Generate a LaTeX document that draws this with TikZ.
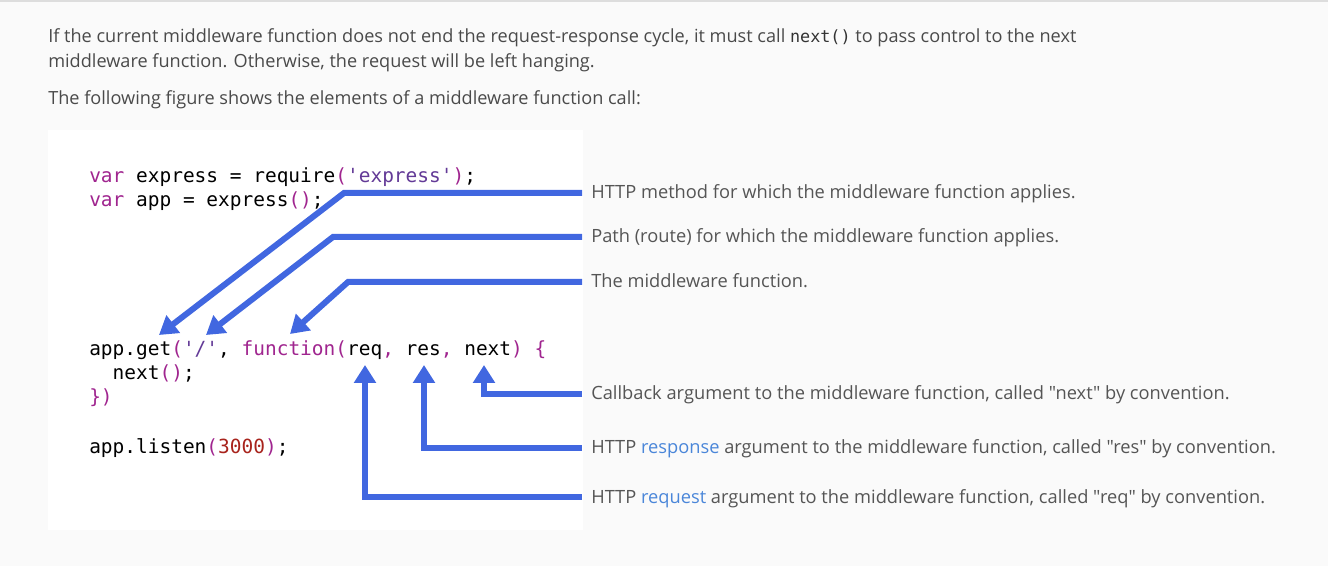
\documentclass[tikz,border=0pt]{standalone}
\usepackage{fontspec}
\setmainfont{Open Sans}[Ligatures=TeXOff]
\setmonofont{DejaVu Sans Mono}
\usetikzlibrary{arrows.meta}

\definecolor{pagebg}{HTML}{FAFAFA}
\definecolor{topline}{HTML}{DDDDDD}
\definecolor{introgray}{HTML}{4A4A4A}
\definecolor{notegray}{HTML}{555555}
\definecolor{linkblue}{HTML}{4A86D9}
\definecolor{calloutblue}{HTML}{4167E0}
\definecolor{codekw}{HTML}{A0258F}
\definecolor{codestr}{HTML}{633A97}
\definecolor{codenum}{HTML}{A8231C}

\newcommand{\ckw}[1]{\textcolor{codekw}{#1}}
\newcommand{\cstr}[1]{\textcolor{codestr}{#1}}
\newcommand{\cnum}[1]{\textcolor{codenum}{#1}}

\begin{document}
\begin{tikzpicture}[x=0.75pt,y=-0.75pt,
  intro/.style={anchor=base west,inner sep=0pt,text=introgray,
    font=\fontsize{13.6}{16}\selectfont},
  code/.style={anchor=base west,inner sep=0pt,
    font=\ttfamily\fontsize{14.6}{17}\selectfont},
  note/.style={anchor=west,inner xsep=6.75pt,inner ysep=0pt,
    text height=10pt,text depth=1pt,text=notegray,
    font=\fontsize{13.7}{16}\selectfont},
  callout/.style={draw=calloutblue,line width=4.5pt,
    -{Triangle[length=13.5pt,width=16pt]}}]
  \useasboundingbox (0,0) rectangle (1328,566);
  \fill[pagebg] (0,0) rectangle (1328,566);
  \draw[topline,line width=1.2pt] (0,1) -- (1328,1);
  \fill[white] (48,130) rectangle (583,530);

  % text above the figure
  \node[intro] (intro1) at (48,43) {If the current middleware function does not end the request-response cycle, it must call {\ttfamily\fontsize{12.6}{15}\selectfont\color{black!80}next()} to pass control to the next};
  \node[intro] (intro2) at (48,68) {middleware function. Otherwise, the request will be left hanging.};
  \node[intro] (intro3) at (48,105) {The following figure shows the elements of a middleware function call:};

  % the code
  \node[code] (line1) at (89,183) {\ckw{var} express = require\ckw{(}\cstr{'express'}\ckw{)};};
  \node[code] (line2) at (89,207) {\ckw{var} app = express\ckw{()};};
  \node[code] (line3) at (89,356) {app.get\ckw{(}\cstr{'/'}, \ckw{function(}req\ckw{,} res\ckw{,} next\ckw{) \{}};
  \node[code] (line4) at (89,380) {\ \ next\ckw{()};};
  \node[code] (line5) at (89,404) {\ckw{\})}};
  \node[code] (line6) at (89,454) {app.listen\ckw{(}\cnum{3000}\ckw{)};};

  % notes
  \node[note] (nmethod) at (582,193) {HTTP method for which the middleware function applies.};
  \node[note] (npath)   at (582,237) {Path (route) for which the middleware function applies.};
  \node[note] (nfunc)   at (582,282) {The middleware function.};
  \node[note] (nnext)   at (582,394) {Callback argument to the middleware function, called "next" by convention.};
  \node[note] (nres)    at (582,448) {HTTP \textcolor{linkblue}{response} argument to the middleware function, called "res" by convention.};
  \node[note] (nreq)    at (582,497) {HTTP \textcolor{linkblue}{request} argument to the middleware function, called "req" by convention.};

  % where the callouts bend and point
  \coordinate (bmethod) at (344,193);
  \coordinate (tmethod) at (159,335);
  \coordinate (bpath)   at (333,237);
  \coordinate (tpath)   at (206,335);
  \coordinate (bfunc)   at (348,282);
  \coordinate (tfunc)   at (290,334);
  \coordinate (treq)    at (365,365);
  \coordinate (tres)    at (424,365);
  \coordinate (tnext)   at (484,365);

  \draw[callout] (nmethod.west) -- (bmethod) -- (tmethod);
  \draw[callout] (npath.west) -- (bpath) -- (tpath);
  \draw[callout] (nfunc.west) -- (bfunc) -- (tfunc);
  \draw[callout] (nnext.west) -| (tnext);
  \draw[callout] (nres.west) -| (tres);
  \draw[callout] (nreq.west) -| (treq);
\end{tikzpicture}
\end{document}
